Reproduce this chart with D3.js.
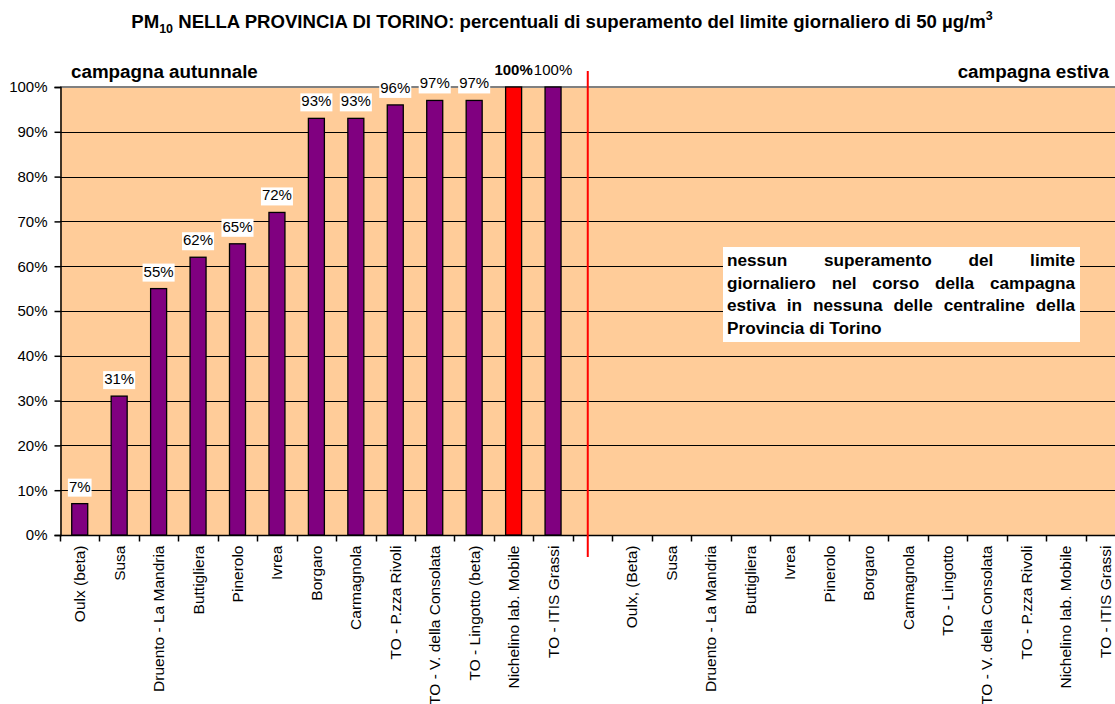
<!DOCTYPE html>
<html>
<head>
<meta charset="utf-8">
<script src="https://cdn.jsdelivr.net/npm/d3@7"></script>
<style>
  body { margin: 0; background: #fff; }
  svg { font-family: "Liberation Sans", Arial, sans-serif; display: block; }
</style>
</head>
<body>
<svg width="1115" height="704"></svg>
<script>
// stations, autumn campaign (with values) and summer campaign (no exceedances)
var autumnStations = ["Oulx (beta)", "Susa", "Druento - La Mandria", "Buttigliera", "Pinerolo",
  "Ivrea", "Borgaro", "Carmagnola", "TO - P.zza Rivoli", "TO - V. della Consolata",
  "TO - Lingotto (beta)", "Nichelino lab. Mobile", "TO - ITIS Grassi"];
var autumnValues = [7, 31, 55, 62, 65, 72, 93, 93, 96, 97, 97, 100, 100];
var summerStations = ["Oulx, (Beta)", "Susa", "Druento - La Mandria", "Buttigliera", "Ivrea",
  "Pinerolo", "Borgaro", "Carmagnola", "TO - Lingotto", "TO - V. della Consolata",
  "TO - P.zza Rivoli", "Nichelino lab. Mobile", "TO - ITIS Grassi"];
var highlighted = "Nichelino lab. Mobile";
var yTicks = [0, 10, 20, 30, 40, 50, 60, 70, 80, 90, 100];
var noteLines = ["nessun superamento del limite",
  "giornaliero nel corso della campagna",
  "estiva in nessuna delle centraline della",
  "Provincia di Torino"];

var svg = d3.select("svg");
var plotLeft = 60, plotRight = 1125, plotTop = 87, plotBottom = 535;

// categories: autumn, one empty slot, summer (prefixed to keep them unique)
var cats = autumnStations.map(function(d, i) { return "a" + i; })
  .concat(["gap"])
  .concat(summerStations.map(function(d, i) { return "s" + i; }));
var catLabel = {};
autumnStations.forEach(function(d, i) { catLabel["a" + i] = d; });
summerStations.forEach(function(d, i) { catLabel["s" + i] = d; });
catLabel["gap"] = "";

var x = d3.scaleBand().domain(cats).range([plotLeft, plotRight]).padding(0);
var y = d3.scaleLinear().domain([0, 100]).range([plotBottom, plotTop]);
var step = x.step();
var barW = 16;

// title
var title = svg.append("text")
  .attr("x", 562).attr("y", 28)
  .attr("text-anchor", "middle")
  .attr("font-weight", "bold")
  .attr("font-size", 18.6);
title.append("tspan").text("PM");
title.append("tspan").attr("font-size", 12.5).attr("dy", 5).text("10");
title.append("tspan").attr("dy", -5).text(" NELLA PROVINCIA DI TORINO: percentuali di superamento del limite giornaliero di 50 \u00b5g/m");
title.append("tspan").attr("font-size", 12.5).attr("dy", -8).text("3");

// plot area
svg.append("rect")
  .attr("x", plotLeft).attr("y", plotTop)
  .attr("width", plotRight - plotLeft).attr("height", plotBottom - plotTop)
  .attr("fill", "#ffcc99");

// gridlines
svg.append("g").selectAll("line")
  .data(yTicks.slice(1, -1))
  .enter().append("line")
  .attr("x1", plotLeft).attr("x2", plotRight)
  .attr("y1", function(d) { return Math.round(y(d)) + 0.5; })
  .attr("y2", function(d) { return Math.round(y(d)) + 0.5; })
  .attr("stroke", "#000").attr("stroke-width", 1);

// top border
svg.append("line")
  .attr("x1", plotLeft).attr("x2", plotRight)
  .attr("y1", plotTop).attr("y2", plotTop)
  .attr("stroke", "#808080").attr("stroke-width", 2);

// y axis
var yAxis = d3.axisLeft(y)
  .tickValues(yTicks)
  .tickFormat(function(d) { return d + "%"; })
  .tickSize(6).tickPadding(7);
var gy = svg.append("g")
  .attr("transform", "translate(" + (plotLeft + 0.5) + ",0)")
  .call(yAxis);
gy.select(".domain").attr("stroke", "#000").attr("stroke-width", 1.5);
gy.selectAll(".tick line").attr("stroke", "#000").attr("stroke-width", 1.5);
gy.selectAll("text").attr("font-size", 15).attr("font-family", "Liberation Sans, Arial, sans-serif").attr("fill", "#000");

// x axis with ticks on category boundaries
var gx = svg.append("g")
  .attr("transform", "translate(0," + (plotBottom + 0.5) + ")");
gx.append("line").attr("x1", plotLeft).attr("x2", plotRight).attr("stroke", "#000").attr("stroke-width", 1.5);
gx.selectAll(".tk")
  .data(cats)
  .enter().append("line")
  .attr("class", "tk")
  .attr("x1", function(d) { return Math.round(x(d)) + 0.5; })
  .attr("x2", function(d) { return Math.round(x(d)) + 0.5; })
  .attr("y1", 0).attr("y2", 6)
  .attr("stroke", "#000").attr("stroke-width", 1.5);
gx.selectAll(".lbl")
  .data(cats)
  .enter().append("text")
  .attr("class", "lbl")
  .attr("transform", function(d) {
    return "translate(" + (x(d) + step / 2 + 5.5) + ",10) rotate(-90)";
  })
  .attr("text-anchor", "end")
  .attr("font-size", 15.5)
  .text(function(d) { return catLabel[d]; });

// bars
var barData = autumnStations.map(function(d, i) {
  return {key: "a" + i, name: d, value: autumnValues[i]};
});
svg.append("g").selectAll("rect")
  .data(barData)
  .enter().append("rect")
  .attr("x", function(d) { return x(d.key) + step / 2 - barW / 2; })
  .attr("y", function(d) { return y(d.value); })
  .attr("width", barW)
  .attr("height", function(d) { return plotBottom - y(d.value); })
  .attr("fill", function(d) { return d.name == highlighted ? "#ff0000" : "#800080"; })
  .attr("stroke", "#000").attr("stroke-width", 1.3);

// value labels with white background
var lab = svg.append("g").selectAll("g")
  .data(barData)
  .enter().append("g");
lab.append("rect").attr("class", "bg").attr("fill", "#fff");
lab.append("text")
  .attr("x", function(d) { return x(d.key) + step / 2; })
  .attr("y", function(d) { return y(d.value) - 12; })
  .attr("text-anchor", "middle")
  .attr("font-size", 15)
  .attr("font-weight", function(d) { return d.name == highlighted ? "bold" : "normal"; })
  .text(function(d) { return d.value + "%"; });
lab.each(function() {
  var g = d3.select(this);
  var bb = g.select("text").node().getBBox();
  g.select("rect")
    .attr("x", bb.x - 1).attr("y", bb.y + 1)
    .attr("width", bb.width + 2).attr("height", bb.height + 1);
});

// red separator line between the two campaigns
var sepX = plotLeft + step * 13.38;
svg.append("line")
  .attr("x1", sepX).attr("x2", sepX)
  .attr("y1", 71).attr("y2", 557)
  .attr("stroke", "#ff0000").attr("stroke-width", 2);

// campaign headings
svg.append("text")
  .attr("x", 71).attr("y", 78)
  .attr("font-size", 18.8).attr("font-weight", "bold")
  .text("campagna autunnale");
svg.append("text")
  .attr("x", 1109).attr("y", 78)
  .attr("text-anchor", "end")
  .attr("font-size", 18.8).attr("font-weight", "bold")
  .text("campagna estiva");

// note box with justified text
var boxX = 723, boxY = 247, boxW = 357, boxH = 95;
svg.append("rect")
  .attr("x", boxX).attr("y", boxY)
  .attr("width", boxW).attr("height", boxH)
  .attr("fill", "#fff");
var textLeft = 727, textRight = 1075;
noteLines.forEach(function(line, li) {
  var words = line.split(" ");
  var baseY = 266 + li * 22.5;
  var nodes = words.map(function(w) {
    return svg.append("text")
      .attr("y", baseY)
      .attr("font-size", 17.2).attr("font-weight", "bold")
      .text(w);
  });
  var widths = nodes.map(function(n) { return n.node().getComputedTextLength(); });
  var total = d3.sum(widths);
  var last = li == noteLines.length - 1;
  var gap = last ? 4.8 : (textRight - textLeft - total) / (words.length - 1);
  var cx = textLeft;
  nodes.forEach(function(n, i) {
    n.attr("x", cx);
    cx += widths[i] + gap;
  });
});
</script>
</body>
</html>
